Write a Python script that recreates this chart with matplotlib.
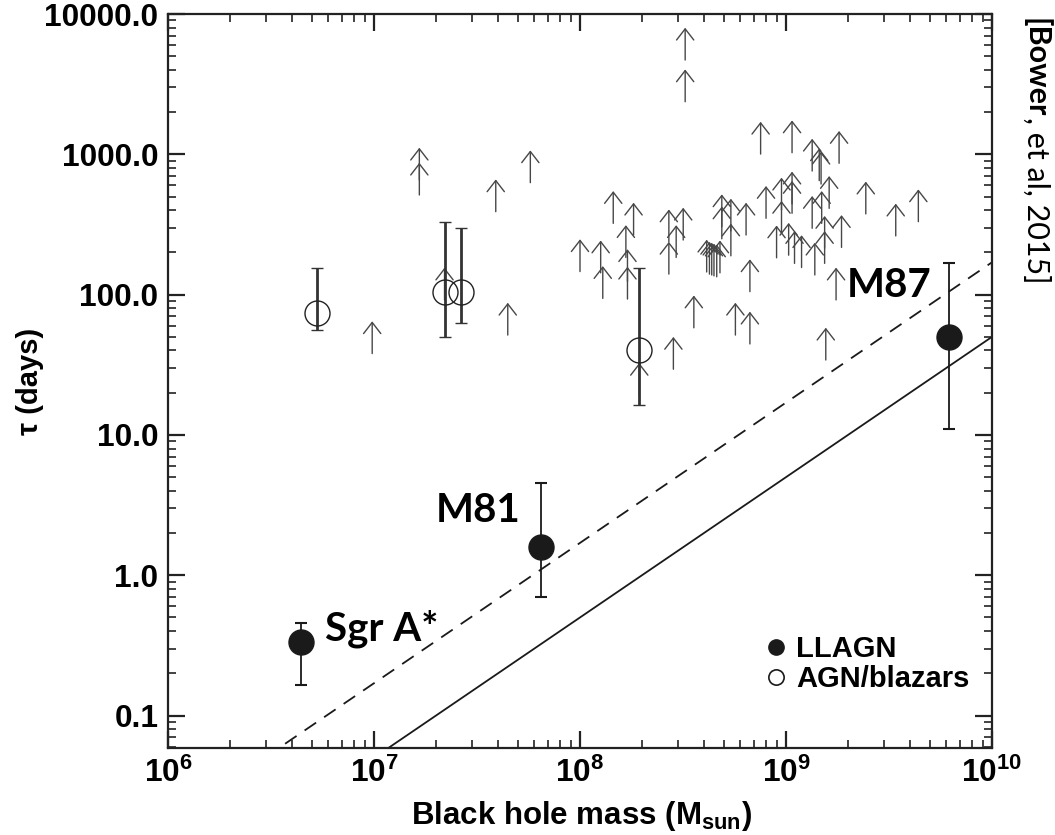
import numpy as np
import matplotlib
matplotlib.use("Agg")
import matplotlib.pyplot as plt
from matplotlib.patches import FancyArrowPatch
from matplotlib.lines import Line2D
from matplotlib.ticker import LogLocator, FuncFormatter, NullFormatter

plt.rcParams['font.family'] = ['Liberation Sans', 'DejaVu Sans']
plt.rcParams['font.weight'] = 'bold'
plt.rcParams['axes.labelweight'] = 'bold'
plt.rcParams['mathtext.fontset'] = 'custom'
plt.rcParams['mathtext.rm'] = 'Liberation Sans:bold'
plt.rcParams['mathtext.bf'] = 'Liberation Sans:bold'
plt.rcParams['mathtext.it'] = 'Liberation Sans:bold:italic'
plt.rcParams['lines.scale_dashes'] = False

# LLAGN (filled): Sgr A*, M81, M87
llagn_mass = [4.4e6, 6.5e7, 6.2e9]
llagn_tau = [0.336, 1.58, 49.7]
llagn_lo = [0.165, 0.70, 11.0]
llagn_hi = [0.456, 4.56, 167.0]
llagn_names = ["Sgr A*", "M81", "M87"]
label_mass = [5.8e6, 2.0e7, 1.97e9]
label_tau = [0.345, 2.40, 96.6]

# AGN/blazars with measured timescales (open)
agn_mass = [5.27e6, 2.21e7, 2.64e7, 1.94e8]
agn_tau = [74.3, 105.0, 105.0, 40.3]
agn_lo = [56.0, 49.7, 62.8, 16.3]
agn_hi = [154.0, 331.0, 297.0, 154.0]

# lower limits (arrows), value at arrow tail
arrow_mass = [9.8e6, 1.66e7, 1.66e7, 3.90e7, 5.74e7, 4.46e7, 2.20e7,
              3.24e8, 3.24e8, 7.53e8, 1.07e9, 1.34e9, 1.45e9, 1.48e9,
              1.81e9, 1.62e9, 2.44e9, 4.39e9, 3.41e9, 1.07e9, 9.51e8,
              1.07e9, 8.0e8, 6.4e8, 9.51e8, 1.34e9, 1.49e9, 1.86e9,
              1.54e9, 1.54e9, 1.38e9, 9.0e8, 1.03e9, 1.10e9, 1.19e9,
              6.68e8, 6.68e8, 1.75e9, 1.56e9, 5.68e8, 3.57e8, 2.84e8,
              4.88e8, 5.40e8, 5.40e8, 4.88e8, 4.12e8, 4.25e8, 4.36e8,
              4.47e8, 4.61e8, 4.78e8, 2.93e8, 2.70e8, 3.17e8, 2.70e8,
              1.82e8, 1.45e8, 1.67e8, 1.70e8, 1.70e8, 1.26e8, 1.29e8,
              1.0e8, 1.94e8]
arrow_tau = [38.0, 656.0, 513.0, 390.0, 628.0, 51.5, 91.7,
             4700.0, 2370.0, 1004.0, 1026.0, 760.0, 649.0, 614.0,
             863.0, 412.0, 376.0, 331.0, 262.0, 443.0, 401.0,
             380.0, 350.0, 266.0, 274.0, 297.0, 322.0, 217.0,
             214.0, 167.0, 138.0, 183.0, 191.0, 167.0, 156.0,
             105.0, 44.5, 91.7, 34.2, 51.5, 58.0, 29.4,
             305.0, 284.0, 189.0, 250.0, 145.0, 140.0, 138.0,
             136.0, 134.0, 143.0, 184.0, 238.0, 245.0, 140.0,
             266.0, 322.0, 184.0, 124.0, 93.0, 143.0, 94.0,
             146.0, 19.2]

# reference relations
line_mass = [1e6, 1e10]
solid_tau = [5e-3, 50.0]
dashed_tau = [1.7e-2, 170.0]

ARROW_SPAN = 10 ** 0.23
INK = '#1a1a1a'

fig = plt.figure(figsize=(10.55, 8.35), dpi=100)
ax = fig.add_axes([168 / 1055, 1 - 748 / 835, 824 / 1055, 734 / 835])
ax.set_xscale('log')
ax.set_yscale('log')
ax.set_xlim(1e6, 1e10)
ax.set_ylim(0.0587, 1e4)

ax.plot(line_mass, solid_tau, color=INK, lw=1.3, zorder=1)
ax.plot(line_mass, dashed_tau, color=INK, lw=1.3, dashes=(10, 7), zorder=1)

for m, t in zip(arrow_mass, arrow_tau):
    ax.add_patch(FancyArrowPatch((m, t), (m, t * ARROW_SPAN),
                                 arrowstyle='->,head_length=0.8,head_width=0.62',
                                 mutation_scale=10, lw=1.0, color='#474747',
                                 shrinkA=0, shrinkB=0, zorder=2))

agn_tau_a = np.array(agn_tau)
ax.errorbar(agn_mass, agn_tau,
            yerr=[agn_tau_a - np.array(agn_lo), np.array(agn_hi) - agn_tau_a],
            fmt='o', ms=18, mfc='none', mec='#222222', mew=1.0,
            ecolor='#333333', elinewidth=2.0, capsize=4, capthick=2.0, zorder=3)

llagn_tau_a = np.array(llagn_tau)
ax.errorbar(llagn_mass, llagn_tau,
            yerr=[llagn_tau_a - np.array(llagn_lo), np.array(llagn_hi) - llagn_tau_a],
            fmt='o', ms=18, mfc=INK, mec=INK,
            ecolor=INK, elinewidth=1.3, capsize=4, capthick=1.5, zorder=4)

for name, m, t in zip(llagn_names, label_mass, label_tau):
    ax.text(m, t, name, ha='left', va='baseline', fontsize=29,
            family='Lato', weight='bold', color='black', zorder=5)

# axes styling
for sp in ax.spines.values():
    sp.set_linewidth(1.6)
    sp.set_color('#222222')
ax.tick_params(which='both', direction='in', top=True, right=True, color='#222222')
ax.tick_params(which='major', length=12, width=1.6, labelsize=22.8, pad=7)
ax.tick_params(which='minor', length=6, width=1.2)

ax.yaxis.set_major_locator(LogLocator(base=10, numticks=20))
ax.yaxis.set_major_formatter(FuncFormatter(lambda v, p: f"{v:.1f}"))
ax.yaxis.set_minor_locator(LogLocator(base=10, subs=np.arange(2, 10), numticks=20))
ax.yaxis.set_minor_formatter(NullFormatter())
ax.xaxis.set_major_locator(LogLocator(base=10, numticks=20))
ax.xaxis.set_major_formatter(FuncFormatter(
    lambda v, p: r"$\mathbf{10^{%d}}$" % int(round(np.log10(v)))))
ax.xaxis.set_minor_locator(LogLocator(base=10, subs=np.arange(2, 10), numticks=20))
ax.xaxis.set_minor_formatter(NullFormatter())

# x label sits on a fixed baseline near the bottom edge
fig.text(581 / 1055, 1 - 824 / 835, r"Black hole mass (M$_{\mathbf{sun}}$)",
         ha='center', va='baseline', fontsize=22.5, weight='bold')
ax.set_ylabel("τ (days)", fontsize=21, fontweight='bold', labelpad=0)

handles = [Line2D([], [], marker='o', ls='none', ms=11, mfc=INK, mec=INK),
           Line2D([], [], marker='o', ls='none', ms=11, mfc='none', mec=INK, mew=1.2)]
ax.legend(handles, ["LLAGN", "AGN/blazars"], loc='lower right',
          bbox_to_anchor=(0.973, 0.075), frameon=False, fontsize=21,
          handletextpad=0.2, handlelength=1.0, labelspacing=0.05,
          borderaxespad=0, borderpad=0)

# citation, reading top to bottom
t1 = fig.text(1027 / 1055, 1 - 18 / 835, "[Bower", rotation=-90,
              rotation_mode='anchor', ha='left', va='baseline',
              fontsize=22, family='Lato', weight='bold')
fig.canvas.draw()
bb = t1.get_window_extent()
fig.text(1027 / 1055, bb.y0 / fig.bbox.height, ", et al, 2015]", rotation=-90,
         rotation_mode='anchor', ha='left', va='baseline',
         fontsize=22, family='Lato', weight='normal')

fig.savefig("out.png", dpi=100)
